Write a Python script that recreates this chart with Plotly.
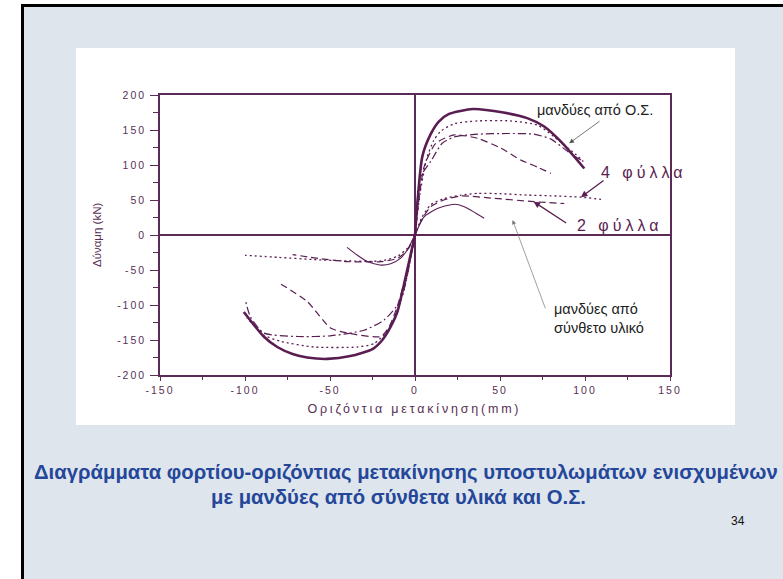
import plotly.graph_objects as go

# ---------------- data ----------------
# Jackets of reinforced concrete (Ο.Σ.)
os_solid_x_pos = [0, 4.3, 9, 14, 20, 34, 52, 66, 76, 86, 99.6]
os_solid_y_pos = [0, 112, 143, 162, 173, 180, 175, 167, 155, 133, 95]
os_solid_x_neg = [0, -5.5, -10.4, -14.3, -19.2, -25, -38, -51.6, -63.4, -72, -81, -89, -100.7]
os_solid_y_neg = [0, -60, -110, -131, -150, -163, -173, -177, -175, -170, -160, -145, -110]

os_dot_x_pos = [0, 3, 7, 11, 15, 23, 37, 56, 72, 82, 96, 99]
os_dot_y_pos = [0, 60, 110, 135, 148, 159, 163, 163, 157, 140, 112, 105]
os_dot_x_neg = [0, -6.5, -14.3, -24, -34, -59.5, -79, -89, -93, -99]
os_dot_y_neg = [0, -79, -131, -155, -160, -160, -152, -143, -133, -119]

os_dashdot_x_pos = [0, 3.3, 9.2, 16, 23, 37, 54, 70, 80, 90, 97.6]
os_dashdot_y_pos = [0, 83, 105, 131, 140, 144, 145, 144, 137, 119, 107]
os_dashdot_x_neg = [0, -8.4, -18, -30, -49.7, -69, -89, -96.8, -99.6]
os_dashdot_y_neg = [0, -93, -121, -136, -144, -145, -140, -117, -95]

os_dash_x_pos = [0, 5.3, 12.2, 23, 37, 50.5, 62.3, 72, 80]
os_dash_y_pos = [0, 97, 131, 143, 138, 124, 107, 97, 88]
os_dash_x_neg = [0, -5, -10.4, -15, -20, -40, -49.7, -63.4, -81]
os_dash_y_neg = [0, -55, -102, -130, -145, -140, -133, -95, -67]

# Jackets of composite material – 4 layers (dotted)
fl4_x_pos = [0, 4, 9.2, 17, 27, 37, 50, 66, 80, 97.6, 109.4]
fl4_y_pos = [0, 25, 43, 52, 57, 59.5, 59, 57, 56, 54, 51]
fl4_x_neg = [0, -3, -10, -20, -40, -60, -80, -100]
fl4_y_neg = [0, -15, -30, -37, -37, -35, -32, -29]

# Jackets of composite material – 2 layers (dashed)
fl2_x_pos = [0, 4, 9.2, 17, 27, 46.5, 70, 87.8]
fl2_y_pos = [0, 22, 40.5, 50, 55.7, 52.4, 47.6, 45]
fl2_x_neg = [0, -4, -10, -20, -40, -55, -72]
fl2_y_neg = [0, -20, -33, -38, -38, -34, -28]

# Thin solid curve
ref_x_pos = [0, 5.3, 13.2, 23, 29, 40.7]
ref_y_pos = [0, 26, 38, 44, 40.5, 24]
ref_x_neg = [0, -4.5, -8.4, -14.3, -20, -28, -34, -40]
ref_y_neg = [0, -21, -33, -41, -43, -38, -28.6, -17.6]

x_tick_vals = [-150, -100, -50, 0, 50, 100, 150]
x_tick_text = ["-150", "-100", "-50", "0", "50", "100", "150"]
y_tick_vals = [-200, -150, -100, -50, 0, 50, 100, 150, 200]
y_tick_text = ["-200", "-150", "-100", "-50", "0", "50", "100", "150", "200"]

x_title = "Οριζόντια μετακίνηση(mm)"
y_title = "Δύναμη (kN)"
caption_1 = "Διαγράμματα φορτίου-οριζόντιας μετακίνησης υποστυλωμάτων ενισχυμένων"
caption_2 = "με μανδύες από σύνθετα υλικά και Ο.Σ."
page_no = "34"

# ---------------- styling ----------------
PURPLE = "#5a1d52"
AXIS = "#5b2a57"
TICKTXT = "#583054"
SLIDE_BG = "#dfe5ec"
CAPTION = "#24479a"
FONT = "Arial, Liberation Sans, sans-serif"
DOT = "2px,3px"
DASH = "7px,4px"
DASHDOT = "8px,3px,2px,3px"

# plot area in pixels
L, R, T, B = 160, 670, 95, 375
W, H = 783, 579


def px(xp):
    return (xp - L) / (R - L)


def py(yp):
    return (B - yp) / (B - T)


fig = go.Figure()


def add(xs, ys, dash, width, name):
    fig.add_trace(go.Scatter(x=xs, y=ys, mode="lines", name=name,
                             line=dict(color=PURPLE, width=width, dash=dash,
                                       shape="spline", smoothing=0.6),
                             showlegend=False, hoverinfo="skip"))


add(os_solid_x_pos, os_solid_y_pos, "solid", 2.6, "ΟΣ 1")
add(os_solid_x_neg, os_solid_y_neg, "solid", 2.6, "ΟΣ 1")
add(os_dot_x_pos, os_dot_y_pos, DOT, 1.3, "ΟΣ 2")
add(os_dot_x_neg, os_dot_y_neg, DOT, 1.3, "ΟΣ 2")
add(os_dashdot_x_pos, os_dashdot_y_pos, DASHDOT, 1.2, "ΟΣ 3")
add(os_dashdot_x_neg, os_dashdot_y_neg, DASHDOT, 1.2, "ΟΣ 3")
add(os_dash_x_pos, os_dash_y_pos, DASH, 1.2, "ΟΣ 4")
add(os_dash_x_neg, os_dash_y_neg, DASH, 1.2, "ΟΣ 4")
add(fl4_x_pos, fl4_y_pos, DOT, 1.3, "4 φύλλα")
add(fl4_x_neg, fl4_y_neg, DOT, 1.3, "4 φύλλα")
add(fl2_x_pos, fl2_y_pos, DASH, 1.2, "2 φύλλα")
add(fl2_x_neg, fl2_y_neg, DASH, 1.2, "2 φύλλα")
add(ref_x_pos, ref_y_pos, "solid", 1.1, "αρχικό")
add(ref_x_neg, ref_y_neg, "solid", 1.1, "αρχικό")

shapes = [
    # slide background with black border
    dict(type="rect", xref="paper", yref="paper", layer="below",
         x0=px(22.5), x1=px(830), y0=py(5.5), y1=py(640),
         fillcolor=SLIDE_BG, line=dict(color="black", width=3)),
    # white chart box
    dict(type="rect", xref="paper", yref="paper", layer="below",
         x0=px(76), x1=px(735), y0=py(48), y1=py(425),
         fillcolor="white", line=dict(width=0)),
]

ann = []
# axis titles
ann.append(dict(text=x_title, xref="paper", yref="paper", x=px(414.5), y=py(409),
                showarrow=False, font=dict(family=FONT, size=12.5, color=TICKTXT),
                xanchor="center", yanchor="middle"))
ann.append(dict(text=y_title, xref="paper", yref="paper", x=px(97), y=py(235),
                showarrow=False, textangle=-90,
                font=dict(family=FONT, size=11.5, color=TICKTXT),
                xanchor="center", yanchor="middle"))
# labels on the chart
ann.append(dict(text="μανδύες από Ο.Σ.", x=106, y=178.6, xref="x", yref="y",
                showarrow=False, font=dict(family=FONT, size=14.5, color="#222222"),
                xanchor="center", yanchor="middle"))
ann.append(dict(text="", x=90.7, y=131, ax=109.4, ay=164, xref="x", yref="y",
                axref="x", ayref="y", showarrow=True, arrowhead=2, arrowsize=1.2,
                arrowwidth=0.8, arrowcolor="#555555"))
ann.append(dict(text="4 φύλλα", x=134.5, y=90, xref="x", yref="y",
                showarrow=False, font=dict(family=FONT, size=16, color=PURPLE),
                xanchor="center", yanchor="middle"))
ann.append(dict(text="", x=97.6, y=53.9, ax=111.8, ay=79.6, xref="x", yref="y",
                axref="x", ayref="y", showarrow=True, arrowhead=2, arrowsize=1,
                arrowwidth=1.3, arrowcolor=PURPLE))
ann.append(dict(text="2 φύλλα", x=120, y=14, xref="x", yref="y",
                showarrow=False, font=dict(family=FONT, size=16, color=PURPLE),
                xanchor="center", yanchor="middle"))
ann.append(dict(text="", x=69.8, y=47.6, ax=89.8, ay=15.7, xref="x", yref="y",
                axref="x", ayref="y", showarrow=True, arrowhead=2, arrowsize=1,
                arrowwidth=1.3, arrowcolor=PURPLE))
ann.append(dict(text="μανδύες από<br>σύνθετο υλικό", x=80.7, y=-119, xref="x", yref="y",
                showarrow=False, align="left",
                font=dict(family=FONT, size=14.5, color="#222222"),
                xanchor="left", yanchor="middle"))
ann.append(dict(text="", x=57.4, y=21.4, ax=77, ay=-107, xref="x", yref="y",
                axref="x", ayref="y", showarrow=True, arrowhead=2, arrowsize=1.2,
                arrowwidth=0.7, arrowcolor="#777777"))
# caption
ann.append(dict(text="<b>" + caption_1 + "</b>", xref="paper", yref="paper",
                x=px(406), y=py(472), showarrow=False,
                font=dict(family=FONT, size=20.3, color=CAPTION),
                xanchor="center", yanchor="middle"))
ann.append(dict(text="<b>" + caption_2 + "</b>", xref="paper", yref="paper",
                x=px(398), y=py(497), showarrow=False,
                font=dict(family=FONT, size=20.3, color=CAPTION),
                xanchor="center", yanchor="middle"))
ann.append(dict(text=page_no, xref="paper", yref="paper",
                x=px(738), y=py(521), showarrow=False,
                font=dict(family=FONT, size=12, color="#111111"),
                xanchor="center", yanchor="middle"))

axis_common = dict(showgrid=False, showline=True, linecolor=AXIS, linewidth=1.5,
                   mirror=True, zeroline=True, zerolinecolor=AXIS, zerolinewidth=1.5,
                   ticks="outside", tickcolor=AXIS, tickwidth=1.3,
                   tickfont=dict(family=FONT, size=10.5, color=TICKTXT))

fig.update_layout(
    width=W, height=H, autosize=False,
    margin=dict(l=L, r=W - R, t=T, b=H - B, pad=0),
    paper_bgcolor="white", plot_bgcolor="white",
    shapes=shapes, annotations=ann,
    xaxis=dict(range=[-150, 150], tickvals=x_tick_vals, ticktext=x_tick_text,
               ticklen=4,
               minor=dict(dtick=25, tick0=0, ticks="outside", ticklen=3,
                          tickcolor=AXIS, tickwidth=1.2, showgrid=False),
               ticklabelstandoff=1, **axis_common),
    yaxis=dict(range=[-200, 200], tickvals=y_tick_vals, ticktext=y_tick_text,
               ticklen=8,
               minor=dict(dtick=25, tick0=0, ticks="outside", ticklen=5,
                          tickcolor=AXIS, tickwidth=1.2, showgrid=False),
               ticklabelstandoff=2, **axis_common),
)

post = """
document.body.style.margin = '0';
document.body.style.overflow = 'hidden';
var gd = document.getElementById('{plot_id}');
function spacing(){
  gd.querySelectorAll('.xtick text, .ytick text').forEach(function(t){ t.style.letterSpacing='2px'; });
  gd.querySelectorAll('.annotation-text').forEach(function(t){
    var s = t.textContent || '';
    if (s.indexOf('φύλλα') >= 0) { t.style.letterSpacing='4px'; }
    if (s.indexOf('Οριζόντια') >= 0) { t.style.letterSpacing='2.8px'; }
  });
}
spacing();
if (gd.on) { gd.on('plotly_afterplot', spacing); }
"""

fig.write_html("out.html", post_script=post, config={"displayModeBar": False})
